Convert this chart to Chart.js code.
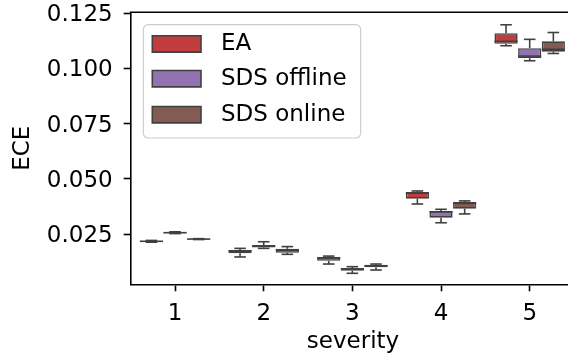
<!DOCTYPE html>
<html>
<head>
<meta charset="utf-8">
<script src="https://cdn.jsdelivr.net/npm/chart.js@4.4.1/dist/chart.umd.min.js"></script>
<style>
  html, body { margin: 0; padding: 0; background: #ffffff; }
  #wrap { width: 568px; height: 358px; position: relative; }
</style>
</head>
<body>
<div id="wrap"><canvas id="chart" width="568" height="358"></canvas></div>
<script>
// Severity levels on the x axis
const severities = ['1', '2', '3', '4', '5'];
const seriesNames = ['EA', 'SDS offline', 'SDS online'];
const yTicks = [0.025, 0.050, 0.075, 0.100, 0.125];

// ECE distribution per severity: whisker ends, quartiles and median
const eaMin    = [0.0213, 0.0146, 0.0114, 0.0386, 0.1103];
const eaQ1     = [0.0215, 0.0163, 0.0129, 0.0410, 0.1112];
const eaMedian = [0.0217, 0.0173, 0.0141, 0.0435, 0.1123];
const eaQ3     = [0.0219, 0.0178, 0.0146, 0.0440, 0.1160];
const eaMax    = [0.0221, 0.0185, 0.0150, 0.0445, 0.1198];

const offMin    = [0.0252, 0.0185, 0.0072, 0.0301, 0.1035];
const offQ1     = [0.0254, 0.0189, 0.0084, 0.0324, 0.1047];
const offMedian = [0.0256, 0.0195, 0.0092, 0.0350, 0.1056];
const offQ3     = [0.0258, 0.0200, 0.0095, 0.0354, 0.1092];
const offMax    = [0.0260, 0.0215, 0.0102, 0.0362, 0.1132];

const onMin    = [0.0225, 0.0158, 0.0087, 0.0341, 0.1068];
const onQ1     = [0.0226, 0.0165, 0.0099, 0.0365, 0.1076];
const onMedian = [0.0227, 0.0176, 0.0106, 0.0389, 0.1087];
const onQ3     = [0.0228, 0.0183, 0.0111, 0.0395, 0.1123];
const onMax    = [0.0229, 0.0193, 0.0114, 0.0400, 0.1163];

const boxColors = ['#c03d3e', '#9372b2', '#845b53'];
const edgeGray = '#404040';
const FONT = '"DejaVu Sans", "Liberation Sans", sans-serif';
const FS = 23;

const stats = [
  { lo: eaMin,  q1: eaQ1,  med: eaMedian,  q3: eaQ3,  hi: eaMax },
  { lo: offMin, q1: offQ1, med: offMedian, q3: offQ3, hi: offMax },
  { lo: onMin,  q1: onQ1,  med: onMedian,  q3: onQ3,  hi: onMax }
];

Chart.defaults.font.family = FONT;
Chart.defaults.font.size = FS;
Chart.defaults.color = '#000000';

// Whiskers, caps and median lines drawn on top of the box bars
const whiskerPlugin = {
  id: 'whiskers',
  afterDatasetsDraw(chart) {
    const ctx = chart.ctx;
    const y = chart.scales.y;
    ctx.save();
    ctx.strokeStyle = edgeGray;
    ctx.lineWidth = 1.6;
    ctx.lineCap = 'butt';
    const line = (x1, y1, x2, y2) => {
      ctx.beginPath(); ctx.moveTo(x1, y1); ctx.lineTo(x2, y2); ctx.stroke();
    };
    chart.data.datasets.forEach((ds, d) => {
      const meta = chart.getDatasetMeta(d);
      const st = stats[d];
      meta.data.forEach((bar, i) => {
        const { x, width } = bar.getProps(['x', 'width'], true);
        const pLo = y.getPixelForValue(st.lo[i]);
        const pQ1 = y.getPixelForValue(st.q1[i]);
        const pMed = y.getPixelForValue(st.med[i]);
        const pQ3 = y.getPixelForValue(st.q3[i]);
        const pHi = y.getPixelForValue(st.hi[i]);
        line(x, pQ1, x, pLo);
        line(x, pQ3, x, pHi);
        line(x - width / 4, pLo, x + width / 4, pLo);
        line(x - width / 4, pHi, x + width / 4, pHi);
        line(x - width / 2, pMed, x + width / 2, pMed);
      });
    });
    ctx.restore();
  }
};

// Top spine of the axes frame
const framePlugin = {
  id: 'frameTop',
  afterDraw(chart) {
    const { ctx, chartArea } = chart;
    ctx.save();
    ctx.strokeStyle = '#000000';
    ctx.lineWidth = 1.6;
    ctx.beginPath();
    ctx.moveTo(chartArea.left - 0.8, chartArea.top);
    ctx.lineTo(chartArea.right + 1, chartArea.top);
    ctx.stroke();
    ctx.restore();
  }
};

// Framed legend in the upper-left corner of the axes
const boxLegendPlugin = {
  id: 'boxLegend',
  afterDraw(chart) {
    const { ctx, chartArea } = chart;
    const x0 = chartArea.left + 12.6;
    const y0 = chartArea.top + 12.4;
    const w = 217.4, h = 113.3, r = 5;
    ctx.save();
    ctx.beginPath();
    ctx.roundRect(x0, y0, w, h, r);
    ctx.fillStyle = 'rgba(255,255,255,0.8)';
    ctx.fill();
    ctx.strokeStyle = '#cccccc';
    ctx.lineWidth = 1.2;
    ctx.stroke();
    const rowCenters = [19.2, 54.0, 90.0];
    chart.data.datasets.forEach((ds, d) => {
      const cy = y0 + rowCenters[d];
      ctx.fillStyle = ds.backgroundColor;
      ctx.strokeStyle = edgeGray;
      ctx.lineWidth = 1.6;
      ctx.beginPath();
      ctx.rect(x0 + 9, cy - 8.2, 48.7, 16.4);
      ctx.fill();
      ctx.stroke();
      ctx.fillStyle = '#000000';
      ctx.font = FS + 'px ' + FONT;
      ctx.textBaseline = 'middle';
      ctx.textAlign = 'left';
      ctx.fillText(ds.label, x0 + 77.7, cy);
    });
    ctx.restore();
  }
};

const datasets = seriesNames.map((name, d) => ({
  label: name,
  data: severities.map((s, i) => ({ x: i, y: [stats[d].q1[i], stats[d].q3[i]] })),
  backgroundColor: boxColors[d],
  borderColor: edgeGray,
  borderWidth: 1.6,
  borderSkipped: false,
  categoryPercentage: 0.8,
  barPercentage: 0.98
}));

new Chart(document.getElementById('chart'), {
  type: 'bar',
  data: { datasets },
  plugins: [whiskerPlugin, framePlugin, boxLegendPlugin],
  options: {
    responsive: false,
    animation: false,
    layout: { padding: { left: 0, right: 0, top: 12.3, bottom: 0 } },
    plugins: { legend: { display: false }, tooltip: { enabled: false } },
    scales: {
      x: {
        type: 'linear',
        min: -0.5,
        max: 4.432,
        offset: false,
        afterFit(scale) {
          scale.height = 73.7;
          scale.paddingLeft = 0; scale.paddingRight = 0;
        },
        afterBuildTicks(scale) { scale.ticks = severities.map((s, i) => ({ value: i })); },
        ticks: {
          padding: 8.6,
          maxRotation: 0,
          autoSkip: false,
          callback: (v) => severities[Math.round(v)]
        },
        grid: { offset: false, drawOnChartArea: false, drawTicks: true, tickLength: 7, tickWidth: 1.6, tickColor: '#000000' },
        border: { display: true, color: '#000000', width: 1.6 },
        title: { display: true, text: ' severity', padding: { top: 0, bottom: 2.6 }, font: { size: FS } }
      },
      y: {
        min: 0.00222,
        max: 0.12545,
        afterFit(scale) {
          scale.width = 130.7;
          scale.paddingTop = 0; scale.paddingBottom = 0;
        },
        afterBuildTicks(scale) { scale.ticks = yTicks.map(v => ({ value: v })); },
        ticks: {
          padding: 11,
          labelOffset: 2,
          callback: (v) => v.toFixed(3)
        },
        grid: { drawOnChartArea: false, drawTicks: true, tickLength: 7, tickWidth: 1.6, tickColor: '#000000' },
        border: { display: true, color: '#000000', width: 1.6 },
        title: { display: true, text: 'ECE', padding: { top: 9, bottom: 0 }, font: { size: FS } }
      }
    }
  }
});
</script>
</body>
</html>
